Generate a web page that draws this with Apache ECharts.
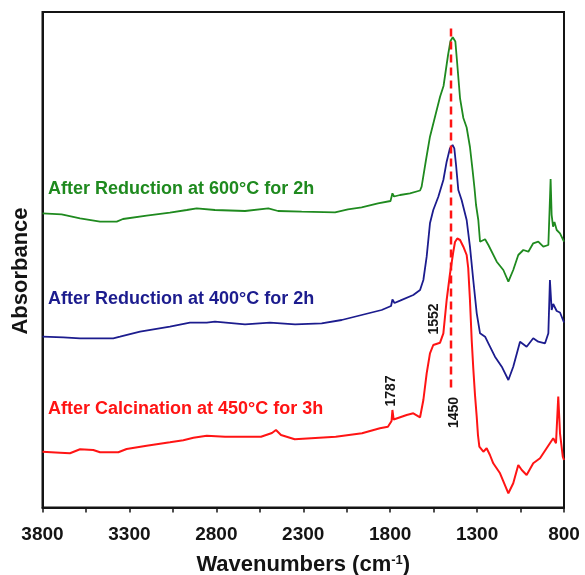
<!DOCTYPE html>
<html>
<head>
<meta charset="utf-8">
<script src="https://cdn.jsdelivr.net/npm/echarts@6/dist/echarts.min.js"></script>
<style>
  html, body { margin: 0; padding: 0; background: #fff; }
  #chart { width: 585px; height: 575px; }
</style>
</head>
<body>
<div id="chart"></div>
<script>
// Wavenumber axis: ticks every 250 cm-1, labels every 500 cm-1
const tickValues = [800, 1050, 1300, 1550, 1800, 2050, 2300, 2550, 2800, 3050, 3300, 3550, 3800];
const labelValues = [3800, 3300, 2800, 2300, 1800, 1300, 800];

// Spectrum after reduction at 600 °C (wavenumber, absorbance a.u.)
const greenWn = [3800,3690,3584,3469,3373,3337,3201,3067,2970,2913,2808,2635,2501,2445,2309,2117,2043,1964,1870,1798,1787,1778,1743,1686,1628,1619,1594,1571,1542,1513,1493,1467,1453,1440,1425,1416,1398,1379,1360,1341,1325,1315,1306,1293,1283,1254,1235,1187,1149,1120,1092,1063,1034,1005,977,948,919,890,883,877,871,863,855,842,823,800];
const greenAbs = [2.942,2.932,2.892,2.858,2.858,2.885,2.918,2.948,2.975,2.992,2.975,2.965,2.992,2.965,2.958,2.952,2.982,3.002,3.042,3.065,3.142,3.11,3.125,3.142,3.17,3.208,3.475,3.708,3.908,4.108,4.215,4.525,4.665,4.702,4.66,4.475,4.092,3.895,3.80,3.605,3.358,3.195,3.025,2.875,2.658,2.682,2.625,2.458,2.375,2.258,2.375,2.525,2.575,2.558,2.642,2.658,2.608,2.625,2.975,3.285,2.925,2.808,2.855,2.775,2.742,2.658];

// Spectrum after reduction at 400 °C
const blueWn = [3800,3680,3584,3393,3354,3239,3067,2952,2855,2808,2635,2491,2347,2194,2079,1964,1849,1795,1787,1775,1743,1667,1628,1609,1590,1571,1552,1523,1494,1475,1456,1441,1431,1421,1408,1389,1360,1341,1322,1302,1283,1254,1235,1197,1158,1120,1092,1053,1015,977,948,909,890,881,871,862,842,823,800];
const blueAbs = [1.708,1.702,1.692,1.692,1.708,1.758,1.808,1.848,1.848,1.858,1.832,1.848,1.832,1.842,1.875,1.925,1.975,2.015,2.08,2.045,2.068,2.125,2.175,2.275,2.508,2.842,2.975,3.108,3.275,3.458,3.592,3.625,3.592,3.425,3.175,3.075,2.875,2.608,2.275,1.942,1.742,1.708,1.642,1.508,1.408,1.275,1.408,1.658,1.608,1.692,1.658,1.642,1.742,2.275,1.975,2.035,1.965,1.95,1.85];

// Spectrum after calcination at 450 °C
const redWn = [3800,3699,3642,3584,3508,3469,3364,3316,3201,3067,2990,2932,2855,2750,2543,2480,2457,2428,2349,2113,1962,1859,1813,1792,1787,1780,1705,1667,1628,1609,1590,1571,1552,1513,1494,1475,1456,1437,1427,1414,1398,1379,1360,1351,1341,1331,1322,1312,1302,1295,1287,1264,1245,1226,1207,1168,1120,1092,1063,1043,1015,977,938,900,862,846,833,823,807,800];
const redAbs = [0.558,0.548,0.542,0.582,0.575,0.552,0.552,0.585,0.618,0.652,0.672,0.698,0.718,0.708,0.708,0.745,0.775,0.725,0.682,0.708,0.742,0.792,0.808,0.865,0.975,0.88,0.925,0.942,0.902,1.075,1.342,1.542,1.625,1.648,1.742,2.075,2.335,2.555,2.655,2.69,2.675,2.608,2.525,2.395,2.075,1.675,1.395,1.125,0.905,0.725,0.608,0.558,0.592,0.525,0.442,0.342,0.142,0.242,0.425,0.375,0.325,0.442,0.492,0.592,0.692,0.642,1.11,0.742,0.508,0.475];

// Band guide at 1450 cm-1 and band labels
const guideWn = 1450;
const guideAbs = [4.79, 1.19];
const bandLabels = [1787, 1552, 1450];

const curveNames = [
  'After Reduction at 600°C for 2h',
  'After Reduction at 400°C for 2h',
  'After Calcination at 450°C for 3h'
];

const FONT = '"Liberation Sans", Arial, Helvetica, sans-serif';
const GREEN = '#1f8a1f', BLUE = '#1c1c8e', RED = '#ff1414', INK = '#141414';

function pairs(xs, ys) { return xs.map((x, i) => [x, ys[i]]); }

const chart = echarts.init(document.getElementById('chart'), null, { renderer: 'canvas' });

function spectrum(name, xs, ys, color, width) {
  return {
    name, type: 'line', data: pairs(xs, ys),
    symbol: 'none', showSymbol: false, silent: true,
    lineStyle: { color, width }
  };
}

chart.setOption({
  animation: false,
  backgroundColor: '#fff',
  grid: {
    left: 42.5, right: 21, top: 12, bottom: 67.5,
    containLabel: false, outerBoundsMode: 'none',
    show: true, borderColor: INK, borderWidth: 2
  },
  xAxis: {
    type: 'value', min: 800, max: 3800, inverse: true,
    axisLine: { show: true, onZero: false, lineStyle: { color: INK, width: 2 } },
    axisTick: { show: true, inside: false, length: 5, customValues: tickValues, lineStyle: { color: INK, width: 1.5 } },
    axisLabel: {
      customValues: labelValues, formatter: v => String(v),
      fontSize: 19, fontWeight: 'bold', fontFamily: FONT, color: INK, margin: 18
    },
    splitLine: { show: false },
    name: 'Wavenumbers (cm{sup|-1})', nameLocation: 'middle', nameGap: 46,
    nameTextStyle: {
      fontSize: 22, fontWeight: 'bold', fontFamily: FONT, color: INK,
      rich: { sup: { fontSize: 13, fontWeight: 'bold', fontFamily: FONT, color: INK, verticalAlign: 'top' } }
    }
  },
  yAxis: {
    type: 'value', min: 0, max: 4.955,
    axisLine: { show: true, lineStyle: { color: INK, width: 2 } },
    axisTick: { show: false }, axisLabel: { show: false }, splitLine: { show: false }
  },
  series: [
    spectrum(curveNames[0], greenWn, greenAbs, GREEN, 1.8),
    spectrum(curveNames[1], blueWn, blueAbs, BLUE, 1.8),
    spectrum(curveNames[2], redWn, redAbs, RED, 2),
    {
      name: 'guide', type: 'line', silent: true, symbol: 'none',
      data: guideAbs.map(a => [guideWn, a]),
      lineStyle: { color: RED, width: 2.5, type: [8, 5] }
    }
  ]
});

// Text placed from the axes' own pixel mapping
const toPx = (wn, a) => chart.convertToPixel({ gridIndex: 0 }, [wn, a]);
const absAt = (xs, ys, wn) => ys[xs.indexOf(wn)];

const bandAnchors = [
  { v: bandLabels[0], p: toPx(bandLabels[0], absAt(redWn, redAbs, bandLabels[0])), dx: -1, dy: -19 },
  { v: bandLabels[1], p: toPx(bandLabels[1], absAt(redWn, redAbs, bandLabels[1])), dx: 1, dy: -26 },
  { v: bandLabels[2], p: toPx(guideWn, guideAbs[1]), dx: 3, dy: 24 }
];

const curveLabelY = [188.8, 299.2, 409.2];
const curveColors = [GREEN, BLUE, RED];

chart.setOption({
  graphic: [
    {
      type: 'text', x: 21, y: 271, rotation: Math.PI / 2, silent: true,
      style: { text: 'Absorbance', font: 'bold 22px ' + FONT, fill: INK, align: 'center', verticalAlign: 'middle' }
    },
    ...curveNames.map((t, i) => ({
      type: 'text', x: 48, y: curveLabelY[i], silent: true,
      style: { text: t, font: 'bold 18px ' + FONT, fill: curveColors[i], align: 'left', verticalAlign: 'middle' }
    })),
    ...bandAnchors.map(b => ({
      type: 'text', x: b.p[0] + b.dx, y: b.p[1] + b.dy, rotation: Math.PI / 2, silent: true,
      style: { text: String(b.v), font: 'bold 14px ' + FONT, fill: INK, align: 'center', verticalAlign: 'middle' }
    }))
  ]
});
</script>
</body>
</html>
